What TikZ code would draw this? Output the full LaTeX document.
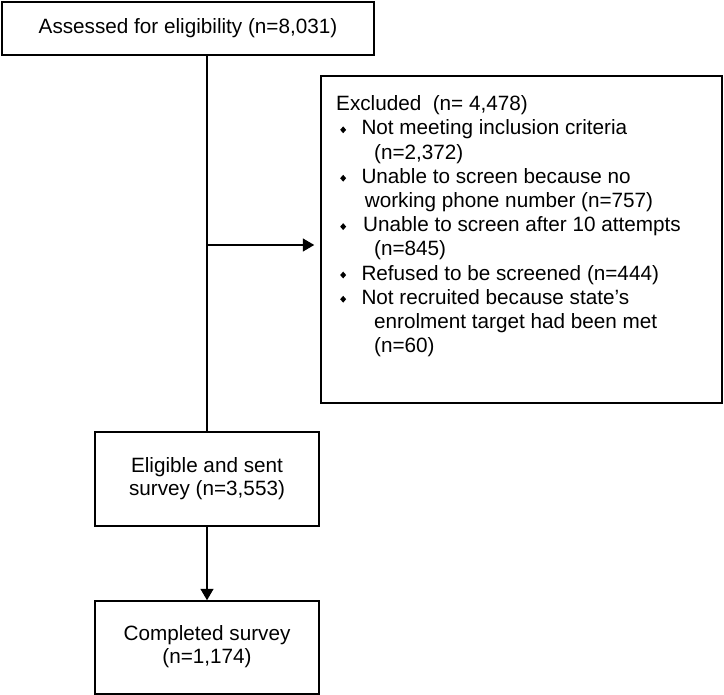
\documentclass[tikz,border=0pt]{standalone}
\usepackage{fontspec}
\setmainfont{Liberation Sans}
\usetikzlibrary{arrows.meta}
\newcommand{\dmd}{\raisebox{1.6pt}{\scalebox{1.0}[1.15]{\rotatebox{45}{\rule{4.2pt}{4.2pt}}}}}
\newcommand{\bul}{\makebox[25.3pt][l]{\hspace*{4pt}\dmd}}
\newcommand{\bulb}{\makebox[27pt][l]{\hspace*{4pt}\dmd}}
\begin{document}
\begin{tikzpicture}[x=1pt,y=-1pt,
  box/.style={draw=black,line width=1.5pt,rectangle,inner sep=0pt,align=center,
    font=\fontsize{20.7}{23}\selectfont},
  conn/.style={line width=1.6pt,draw=black},
  arr/.style={conn,-{Triangle[length=11.5pt,width=13pt]}}]
\useasboundingbox (0,0) rectangle (724,695);
\node[box,minimum width=372pt,minimum height=53pt] (top) at (188,28.5)
  {\raisebox{-4.7pt}{Assessed for eligibility (n=8,031)}};
\node[box,minimum width=401pt,minimum height=327pt] (excl) at (521.5,239.5) {};
\node[inner sep=0pt,anchor=north west,font=\fontsize{20.7}{24.2}\selectfont] (exclt) at (336,93.5)
{\begin{tabular}{@{}l@{}}
Excluded\ \ (n=\ 4,478)\\
\bul Not meeting inclusion criteria\\
\hspace*{38pt}(n=2,372)\\
\bul Unable to screen because no\\
\hspace*{28.7pt}working phone number (n=757)\\
\bulb Unable to screen after 10 attempts\\
\hspace*{38pt}(n=845)\\
\bul Refused to be screened (n=444)\\
\bul Not recruited because state’s\\
\hspace*{38pt}enrolment target had been met\\
\hspace*{38pt}(n=60)
\end{tabular}};
\node[box,minimum width=224pt,minimum height=94pt] (elig) at (207,479)
  {\raisebox{4.5pt}{\begin{tabular}{@{}c@{}}Eligible and sent\\survey (n=3,553)\end{tabular}}};
\node[box,minimum width=224pt,minimum height=93pt] (comp) at (207,647.5)
  {\raisebox{4pt}{\begin{tabular}{@{}c@{}}Completed survey\\(n=1,174)\end{tabular}}};
\coordinate (jn) at (207,245);
\draw[conn] (elig.north |- top.south) -- (elig.north);
\draw[arr,shorten >=6pt] (jn) -- (jn -| excl.west);
\draw[arr] (elig.south) -- (comp.north);
\end{tikzpicture}
\end{document}
